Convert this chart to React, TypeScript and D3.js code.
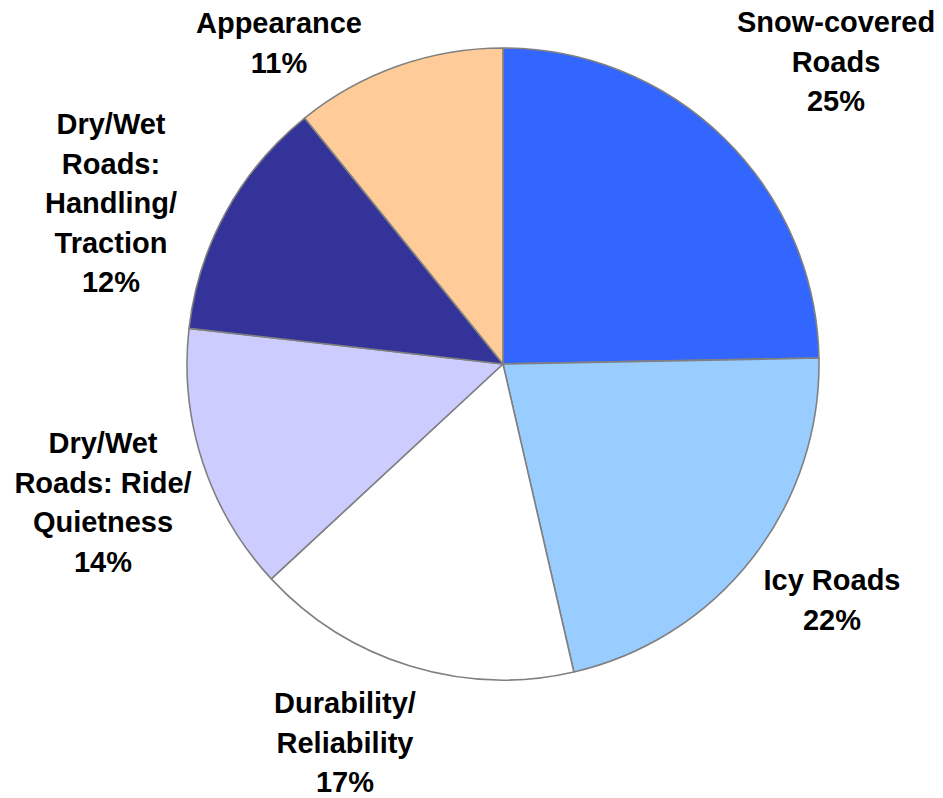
import { useRef, useEffect } from 'react';
import * as d3 from 'd3';

// Slices, clockwise from 12 o'clock
const categories = [
    'Snow-covered Roads',
    'Icy Roads',
    'Durability/ Reliability',
    'Dry/Wet Roads: Ride/ Quietness',
    'Dry/Wet Roads: Handling/ Traction',
    'Appearance',
];
const shares = [24.7, 21.7, 16.7, 13.7, 12.4, 10.8];
const labelLines = [
    ['Snow-covered', 'Roads'],
    ['Icy Roads'],
    ['Durability/', 'Reliability'],
    ['Dry/Wet', 'Roads: Ride/', 'Quietness'],
    ['Dry/Wet', 'Roads:', 'Handling/', 'Traction'],
    ['Appearance'],
];
const colors = ['#3366FF', '#99CCFF', '#FFFFFF', '#CCCCFF', '#333399', '#FFCC99'];

// label anchors: centre x, first baseline y
const labelAnchors: [number, number][] = [
    [836, 32],
    [832, 590],
    [345, 713],
    [103, 453],
    [111, 134],
    [279, 33],
];

export default function App() {
    const ref = useRef<SVGSVGElement>(null);

    useEffect(() => {
        if (!ref.current) return;
        const svg = d3.select(ref.current);
        svg.selectAll('*').remove();

        const width = 943;
        const height = 798;
        const cx = 503;
        const cy = 364;
        const radius = 316;
        const lineH = 39.5;

        svg.attr('width', width).attr('height', height);

        const data = categories.map((c, i) => ({ name: c, value: shares[i], color: colors[i], i }));

        const pie = d3.pie<typeof data[0]>()
            .sort(null)
            .value(d => d.value);
        const arc = d3.arc<d3.PieArcDatum<typeof data[0]>>()
            .innerRadius(0)
            .outerRadius(radius);

        const g = svg.append('g').attr('transform', `translate(${cx},${cy})`);

        g.selectAll('path')
            .data(pie(data))
            .enter()
            .append('path')
            .attr('d', arc)
            .attr('fill', d => d.data.color)
            .attr('stroke', '#808080')
            .attr('stroke-width', 1.6)
            .attr('stroke-linejoin', 'round');

        // Labels
        data.forEach((d, i) => {
            const [x, y] = labelAnchors[i];
            const lines = [...labelLines[i], `${Math.round(d.value)}%`];
            const t = svg.append('text')
                .attr('text-anchor', 'middle')
                .attr('font-family', 'Liberation Sans, Arial, sans-serif')
                .attr('font-weight', 'bold')
                .attr('font-size', '29px')
                .attr('fill', '#000');
            lines.forEach((l, j) => {
                t.append('tspan').attr('x', x).attr('y', y + j * lineH).text(l);
            });
        });
    }, []);

    return (
        <svg ref={ref} style={{ position: 'absolute', left: 0, top: 0, background: '#fff' }}></svg>
    );
}
